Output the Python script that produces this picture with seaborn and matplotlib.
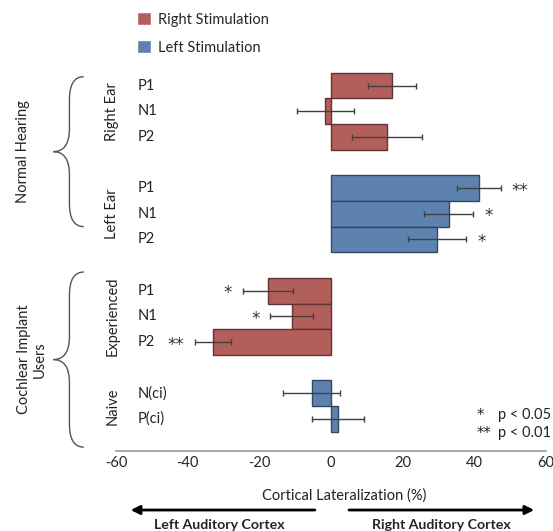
import numpy as np
import pandas as pd
import seaborn as sns
import matplotlib.pyplot as plt
import matplotlib.transforms as mtransforms
from matplotlib.path import Path
from matplotlib.patches import PathPatch

# data
group_names = ["Right Ear", "Left Ear", "Experienced", "Naive"]
components = [["P1", "N1", "P2"], ["P1", "N1", "P2"], ["P1", "N1", "P2"], ["N(ci)", "P(ci)"]]
stimulation = ["Right Stimulation", "Left Stimulation", "Right Stimulation", "Left Stimulation"]
lateralization = [[17.0, -1.6, 15.6], [41.2, 32.8, 29.6], [-17.7, -10.9, -32.9], [-5.4, 2.0]]
sem = [[6.8, 7.9, 9.7], [6.1, 6.9, 8.2], [7.0, 6.0, 5.1], [7.9, 7.3]]
signif = [["", "", ""], ["**", "*", "*"], ["*", "*", "**"], ["", ""]]
populations = ["Normal Hearing", "Cochlear Implant\nUsers"]
pop_braces = [(-0.35, 5.5), (7.27, 14.1)]
stim_order = ["Right Stimulation", "Left Stimulation"]
colors = ["#C0504D", "#4F81BD"]

sns.set_theme(style="white")
plt.rcParams['font.family'] = ['Lato', 'DejaVu Sans']
plt.rcParams['axes.unicode_minus'] = False

# build the table, one empty slot between groups
rows = []
group_span = []
pos = 0
for g, comps, st, vals, errs, sig in zip(group_names, components, stimulation, lateralization, sem, signif):
    start = pos
    for c, v, e, s in zip(comps, vals, errs, sig):
        rows.append(dict(pos=pos, comp=c, value=v, err=e, sig=s, stim=st))
        pos += 1
    group_span.append((start, pos - 1))
    pos += 1
df = pd.DataFrame(rows)

fig = plt.figure(figsize=(5.53, 5.31), dpi=100)
ax = fig.add_axes([0.2098, 0.1507, 0.7776, 0.7363])

sns.barplot(data=df, x='value', y='pos', hue='stim', hue_order=stim_order, palette=colors,
            orient='h', native_scale=True, width=1.0, dodge=False, errorbar=None,
            linewidth=1, ax=ax)
for p in ax.patches:
    fc = p.get_facecolor()
    p.set_edgecolor(tuple(c * 0.55 for c in fc[:3]))

ax.errorbar(df['value'], df['pos'], xerr=df['err'], fmt='none', ecolor='#404040',
            elinewidth=1, capsize=2, capthick=1)

# significance stars
star = dict(va='center', fontsize=12, color='#333', family='DejaVu Sans')
for _, r in df.iterrows():
    if not r['sig']:
        continue
    if r['value'] >= 0:
        ax.text(r['value'] + r['err'] + 3, r['pos'] + 0.1, r['sig'], ha='left', **star)
    else:
        ax.text(r['value'] - r['err'] - 3, r['pos'] + 0.1, r['sig'], ha='right', **star)

ax.set_xlim(-60, 60)
ax.set_ylim(14.25, -1.0)
ax.set_yticks([])
ax.set_ylabel('')
ax.set_xticks(range(-60, 61, 20))
ax.tick_params(axis='x', direction='in', length=5, color='#888888', labelsize=10.5, pad=3.5, width=1)
sns.despine(ax=ax, left=True)
ax.spines['bottom'].set_color('#999999')
ax.spines['bottom'].set_linewidth(1.2)

# component labels
for _, r in df.iterrows():
    ax.text(-54.0, r['pos'], r['comp'], ha='left', va='center', fontsize=10.5, color='#222')

# group labels
for name, (a, b) in zip(group_names, group_span):
    ax.text(-61.0, (a + b) / 2, name, rotation=90, ha='center', va='center', fontsize=10.5,
            color='#222', clip_on=False)


def brace(y0, y1, xr=-69.0, xm=-73.0, xt=-77.5, a=0.9):
    yt = (y0 + y1) / 2
    verts = [(xr, y0), (xm, y0), (xm, y0 + a), (xm, yt - a), (xm, yt), (xt, yt),
             (xm, yt), (xm, yt + a), (xm, y1 - a), (xm, y1), (xr, y1)]
    codes = [Path.MOVETO, Path.CURVE3, Path.CURVE3, Path.LINETO, Path.CURVE3, Path.CURVE3,
             Path.CURVE3, Path.CURVE3, Path.LINETO, Path.CURVE3, Path.CURVE3]
    ax.add_patch(PathPatch(Path(verts, codes), fill=False, ec='#555555', lw=1, clip_on=False))
    return yt


for label, (y0, y1), xl in zip(populations, pop_braces, [-86.0, -83.5]):
    yt = brace(y0, y1)
    ax.text(xl, yt, label, rotation=90, ha='center', va='center', fontsize=10.5, color='#222',
            multialignment='center', clip_on=False)

# p-value key
key = dict(ha='left', va='center', fontsize=10.5, color='#222')
ax.text(40.6, 12.85, "*", family='DejaVu Sans', **key)
ax.text(46.6, 12.85, "p < 0.05", **key)
ax.text(40.6, 13.55, "**", family='DejaVu Sans', **key)
ax.text(46.6, 13.55, "p < 0.01", **key)

ax.set_xlabel("Cortical Lateralization (%)", fontsize=10.5, color='#222')
ax.xaxis.set_label_coords((344 - 116) / 430, -0.095)

trans = mtransforms.blended_transform_factory(ax.transData, ax.transAxes)
arrow = dict(arrowstyle='-|>', lw=2, color='black', mutation_scale=13, shrinkA=0, shrinkB=0)
ax.annotate('', xy=(-55.9, -0.151), xytext=(-4.5, -0.151), xycoords=trans, textcoords=trans,
            arrowprops=arrow, annotation_clip=False)
ax.annotate('', xy=(56.7, -0.151), xytext=(5.0, -0.151), xycoords=trans, textcoords=trans,
            arrowprops=arrow, annotation_clip=False)
ax.text(-31.3, -0.189, "Left Auditory Cortex", transform=trans, ha='center', va='center',
        fontweight='bold', fontsize=10.2)
ax.text(30.7, -0.189, "Right Auditory Cortex", transform=trans, ha='center', va='center',
        fontweight='bold', fontsize=10.2)

sns.move_legend(ax, 'upper left', bbox_to_anchor=(0.2477, 0.977), bbox_transform=fig.transFigure,
                frameon=False, title=None, handlelength=0.95, handleheight=0.95, handletextpad=0.5,
                labelspacing=0.95, fontsize=10.5, borderaxespad=0, borderpad=0)

fig.savefig("out.png", dpi=100)
